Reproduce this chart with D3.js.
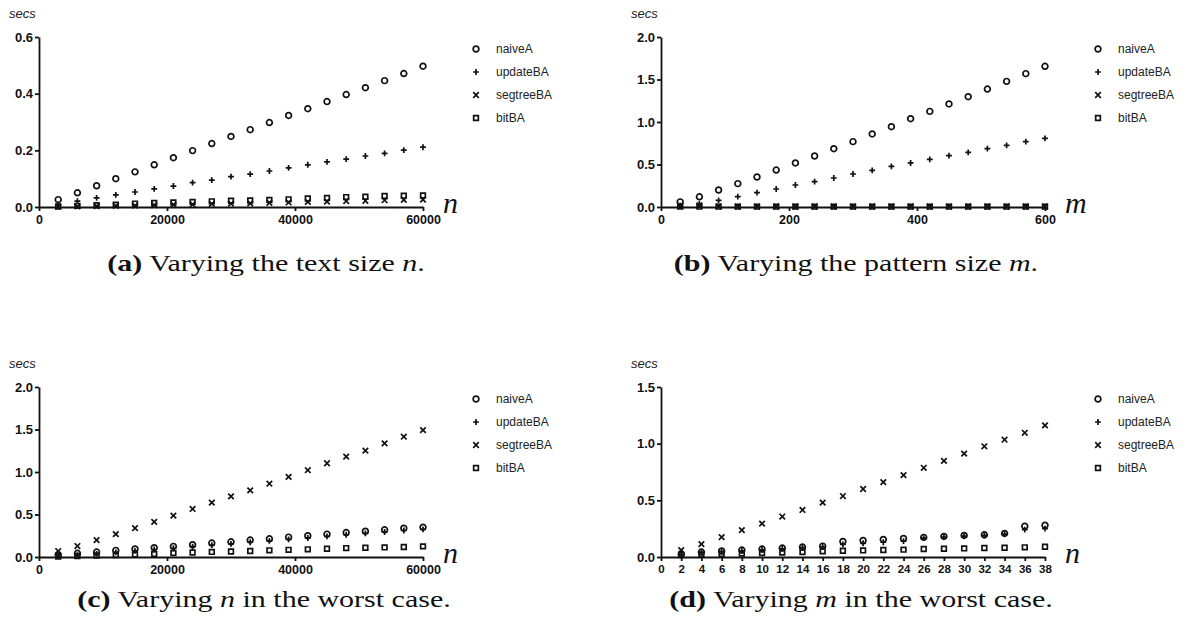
<!DOCTYPE html>
<html>
<head>
<meta charset="utf-8">
<script src="https://cdn.jsdelivr.net/npm/d3@7"></script>
<style>
  body { margin: 0; background: #fff; }
  svg { display: block; }
</style>
</head>
<body>
<div id="plot"></div>
<script>
// x values of each experiment
var nSizes = [3000, 6000, 9000, 12000, 15000, 18000, 21000, 24000, 27000, 30000,
              33000, 36000, 39000, 42000, 45000, 48000, 51000, 54000, 57000, 60000];
var mSizes = [30, 60, 90, 120, 150, 180, 210, 240, 270, 300,
              330, 360, 390, 420, 450, 480, 510, 540, 570, 600];
var mWorst = [2, 4, 6, 8, 10, 12, 14, 16, 18, 20, 22, 24, 26, 28, 30, 32, 34, 36, 38];

var seriesNames = ["naiveA", "updateBA", "segtreeBA", "bitBA"];

// (a) varying the text size n
var aNaive   = [0.026, 0.05, 0.075, 0.1, 0.124, 0.149, 0.174, 0.199, 0.224, 0.249,
                0.273, 0.298, 0.323, 0.347, 0.372, 0.397, 0.421, 0.446, 0.471, 0.497];
var aUpdate  = [0.008, 0.021, 0.032, 0.043, 0.053, 0.064, 0.074, 0.086, 0.095, 0.107,
                0.116, 0.127, 0.138, 0.149, 0.159, 0.169, 0.18, 0.189, 0.201, 0.211];
var aSegtree = [0.001, 0.002, 0.003, 0.004, 0.005, 0.007, 0.008, 0.009, 0.011, 0.012,
                0.013, 0.015, 0.016, 0.018, 0.019, 0.021, 0.022, 0.024, 0.025, 0.026];
var aBit     = [0.002, 0.004, 0.006, 0.008, 0.012, 0.014, 0.016, 0.018, 0.02, 0.022,
                0.023, 0.025, 0.027, 0.03, 0.032, 0.035, 0.036, 0.039, 0.04, 0.041];

// (b) varying the pattern size m
var bNaive   = [0.06, 0.12, 0.2, 0.275, 0.353, 0.435, 0.518, 0.6, 0.686, 0.769,
                0.859, 0.945, 1.039, 1.125, 1.212, 1.298, 1.388, 1.478, 1.569, 1.655];
var bUpdate  = [0.015, 0.035, 0.078, 0.122, 0.169, 0.212, 0.259, 0.298, 0.341, 0.388,
                0.431, 0.478, 0.518, 0.561, 0.604, 0.643, 0.686, 0.725, 0.769, 0.808];
var bSegtree = [0.012, 0.02, 0.008, 0.006, 0.006, 0.006, 0.006, 0.006, 0.006, 0.006,
                0.006, 0.006, 0.006, 0.006, 0.006, 0.006, 0.006, 0.006, 0.006, 0.006];
var bBit     = [0.004, 0.004, 0.004, 0.004, 0.004, 0.004, 0.004, 0.004, 0.004, 0.004,
                0.004, 0.004, 0.004, 0.004, 0.004, 0.004, 0.004, 0.004, 0.004, 0.004];

// (c) varying n in the worst case
var cNaive   = [0.027, 0.043, 0.058, 0.078, 0.094, 0.109, 0.125, 0.144, 0.164, 0.179,
                0.199, 0.214, 0.234, 0.25, 0.269, 0.288, 0.304, 0.32, 0.339, 0.351];
var cUpdate  = [0.01, 0.022, 0.036, 0.055, 0.072, 0.088, 0.103, 0.121, 0.14, 0.155,
                0.174, 0.19, 0.208, 0.224, 0.243, 0.262, 0.278, 0.294, 0.312, 0.325];
var cSegtree = [0.07, 0.129, 0.199, 0.269, 0.339, 0.413, 0.487, 0.565, 0.639, 0.713,
                0.784, 0.862, 0.943, 1.021, 1.103, 1.181, 1.251, 1.337, 1.415, 1.493];
var cBit     = [0.006, 0.012, 0.018, 0.024, 0.03, 0.036, 0.047, 0.053, 0.06, 0.064,
                0.07, 0.078, 0.084, 0.09, 0.097, 0.105, 0.109, 0.113, 0.117, 0.125];

// (d) varying m in the worst case
var dNaive   = [0.026, 0.044, 0.053, 0.061, 0.07, 0.079, 0.088, 0.096, 0.137, 0.146,
                0.155, 0.164, 0.173, 0.181, 0.19, 0.196, 0.208, 0.272, 0.281];
var dUpdate  = [0.02, 0.038, 0.047, 0.055, 0.064, 0.073, 0.082, 0.09, 0.112, 0.121,
                0.13, 0.14, 0.167, 0.175, 0.184, 0.19, 0.202, 0.242, 0.251];
var dSegtree = [0.061, 0.114, 0.175, 0.237, 0.295, 0.357, 0.415, 0.48, 0.538, 0.6,
                0.661, 0.722, 0.787, 0.848, 0.912, 0.977, 1.035, 1.096, 1.161];
var dBit     = [0.018, 0.022, 0.027, 0.03, 0.035, 0.04, 0.044, 0.05, 0.055, 0.058,
                0.062, 0.065, 0.07, 0.073, 0.076, 0.079, 0.082, 0.085, 0.091];

// tick values
var nTicks = [0, 20000, 40000, 60000];
var mTicks = [0, 200, 400, 600];
var mWorstTicks = [0, 2, 4, 6, 8, 10, 12, 14, 16, 18, 20, 22, 24, 26, 28, 30, 32, 34, 36, 38];
var ticksA = [0, 0.2, 0.4, 0.6];
var ticksB = [0, 0.5, 1.0, 1.5, 2.0];
var ticksD = [0, 0.5, 1.0, 1.5];

var panels = [
  {left: 39,  top: 37,  xs: nSizes, xMax: 60000, xTicks: nTicks, yMax: 0.6, yTicks: ticksA,
   values: [aNaive, aUpdate, aSegtree, aBit], xLabel: "n", capX: 266, capY: 271,
   tag: "(a)", caption: [" Varying the text size ", "n", "."]},
  {left: 661, top: 37,  xs: mSizes, xMax: 600, xTicks: mTicks, yMax: 2.0, yTicks: ticksB,
   values: [bNaive, bUpdate, bSegtree, bBit], xLabel: "m", capX: 856, capY: 271,
   tag: "(b)", caption: [" Varying the pattern size ", "m", "."]},
  {left: 39,  top: 387, xs: nSizes, xMax: 60000, xTicks: nTicks, yMax: 2.0, yTicks: ticksB,
   values: [cNaive, cUpdate, cSegtree, cBit], xLabel: "n", capX: 264, capY: 607,
   tag: "(c)", caption: [" Varying ", "n", " in the worst case."]},
  {left: 661, top: 387, xs: mWorst, xMax: 38, xTicks: mWorstTicks, yMax: 1.5, yTicks: ticksD,
   values: [dNaive, dUpdate, dSegtree, dBit], xLabel: "n", small: true, capX: 861, capY: 607,
   tag: "(d)", caption: [" Varying ", "m", " in the worst case."]}
];

var width = 384, height = 170;

var symbols = [
  d3.symbol().type(d3.symbolCircle).size(26),
  d3.symbol().type(d3.symbolPlus).size(13),
  d3.symbol().type(d3.symbolTimes).size(22),
  d3.symbol().type(d3.symbolSquare2).size(28)
];

var svg = d3.select("#plot").append("svg")
    .attr("width", 1191)
    .attr("height", 637);

var sans = "'Liberation Sans', Arial, Helvetica, sans-serif";
var serif = "'Liberation Serif', 'Times New Roman', serif";

panels.forEach(function(p) {
  var g = svg.append("g")
      .attr("transform", "translate(" + p.left + "," + p.top + ")");

  var x = d3.scaleLinear().domain([0, p.xMax]).range([0, width]);
  var y = d3.scaleLinear().domain([0, p.yMax]).range([height, 0]);

  // y axis
  var yAxis = g.append("g")
      .call(d3.axisLeft(y).tickValues(p.yTicks).tickSize(4).tickSizeOuter(0)
        .tickFormat(d3.format(".1f")));
  yAxis.selectAll("text")
      .attr("x", -6)
      .style("font-family", sans).style("font-weight", "bold")
      .style("font-size", "13px").attr("fill", "#111");

  // x axis
  var xAxis = g.append("g")
      .attr("transform", "translate(0," + height + ")")
      .call(d3.axisBottom(x).tickValues(p.xTicks).tickSize(4).tickSizeOuter(0)
        .tickFormat(d3.format("d")));
  xAxis.selectAll("text")
      .attr("y", 8)
      .style("font-family", sans).style("font-weight", "bold")
      .style("font-size", p.small ? "11.5px" : "12.5px").attr("fill", "#111");

  g.selectAll(".domain, .tick line")
      .attr("stroke", "#111").attr("stroke-width", 1.8);

  // unit label
  g.append("text")
      .attr("x", -30).attr("y", -19)
      .style("font-family", sans).style("font-style", "italic")
      .style("font-size", "13px").attr("fill", "#222")
      .text("secs");

  // x label
  g.append("text")
      .attr("x", width + 20).attr("y", height + 6)
      .style("font-family", serif).style("font-style", "italic")
      .style("font-size", "30px").attr("fill", "#111")
      .text(p.xLabel);

  // markers
  p.values.forEach(function(vals, si) {
    g.append("g").selectAll("path")
        .data(vals)
        .enter()
        .append("path")
          .attr("transform", function(d, i) {
            return "translate(" + x(p.xs[i]) + "," + y(d) + ")";
          })
          .attr("d", symbols[si])
          .attr("fill", "none")
          .attr("stroke", "#111")
          .attr("stroke-width", 1.7);
  });

  // legend
  var legend = g.append("g")
      .attr("transform", "translate(" + (width + 53) + ",12)");
  seriesNames.forEach(function(name, si) {
    var row = legend.append("g").attr("transform", "translate(0," + (si * 23) + ")");
    row.append("path")
        .attr("d", symbols[si])
        .attr("fill", "none").attr("stroke", "#111").attr("stroke-width", 1.7);
    row.append("text")
        .attr("x", 20).attr("dy", "0.35em")
        .style("font-family", sans).style("font-size", "12px").attr("fill", "#222")
        .text(name);
  });

  // caption, stretched sideways like the typeset original
  var capG = svg.append("g")
      .attr("transform", "translate(" + p.capX + "," + p.capY + ") scale(1.25,1)");
  var cap = capG.append("text")
      .attr("text-anchor", "middle")
      .style("font-family", serif).style("font-size", "24px").attr("fill", "#111");
  cap.append("tspan").style("font-weight", "bold").text(p.tag);
  p.caption.forEach(function(part, i) {
    var t = cap.append("tspan").text(part);
    if (i === 1) t.style("font-style", "italic");
  });
});
</script>
</body>
</html>
